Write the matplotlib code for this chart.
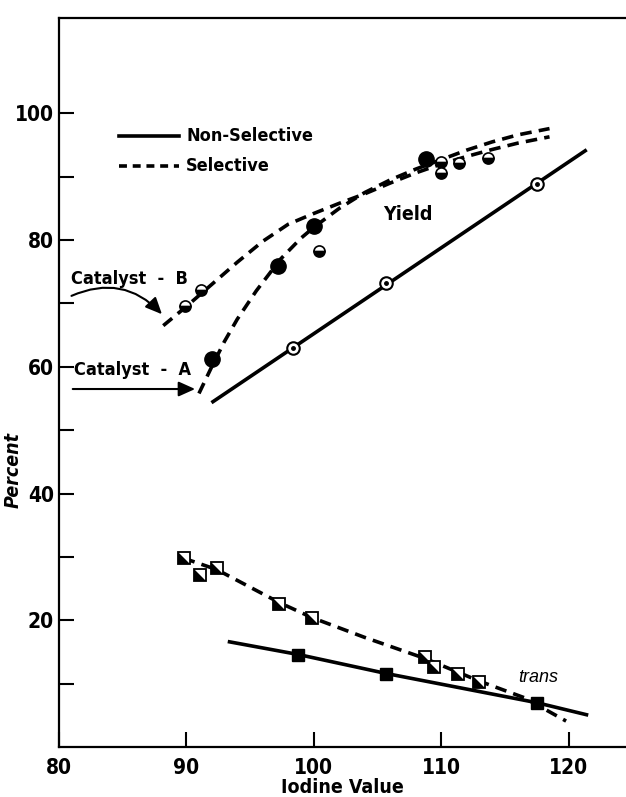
import os
import numpy as np
import matplotlib
matplotlib.use('Agg')
import matplotlib.pyplot as plt
import matplotlib.font_manager as fm
from matplotlib.path import Path

# the original lettering is a narrow bold face, try to find one
cond_path = None
cond_ital = None
for f in sorted(fm.findSystemFonts()):
    base = os.path.basename(f).lower()
    if ('condensed' in base or 'narrow' in base) and 'bold' in base \
            and 'extra' not in base and 'semi' not in base:
        if 'italic' in base or 'oblique' in base:
            if cond_ital is None:
                cond_ital = f
        elif cond_path is None:
            cond_path = f


def tprops(size, italic=False):
    if italic and cond_ital is not None:
        return fm.FontProperties(fname=cond_ital, size=size + 1)
    if cond_path is not None:
        return fm.FontProperties(fname=cond_path, size=size + 1)
    return fm.FontProperties(family='Liberation Sans', weight='bold',
                             style='italic' if italic else 'normal', size=size)


# yield, non-selective (solid line, dotted circles)
ns_yield_x = [98.4, 105.7, 117.5]
ns_yield_y = [62.9, 73.3, 88.9]
ns_yield_line_x = [92.1, 121.3]
ns_yield_line_y = [54.5, 94.1]

# yield, selective catalyst A (filled circles)
cat_a_x = [92.0, 97.2, 100.0, 108.8]
cat_a_y = [61.3, 75.9, 82.2, 92.8]
cat_a_line_x = [91.0, 92.0, 93.0, 94.0, 95.5, 97.4, 99.0, 100.0, 102.0, 104.0,
                106.0, 108.0, 110.0, 112.0, 114.0, 116.0, 118.5]
cat_a_line_y = [55.8, 60.0, 64.0, 67.5, 72.0, 77.0, 80.3, 82.0, 85.0, 87.5,
                89.5, 91.2, 92.7, 94.2, 95.5, 96.6, 97.6]

# yield, selective catalyst B (half-filled circles)
cat_b_x = [89.9, 91.2, 100.4, 110.0, 110.0, 111.4, 113.7]
cat_b_y = [69.6, 72.2, 78.3, 92.4, 90.6, 92.2, 93.0]
cat_b_line_x = [88.2, 90.0, 92.0, 94.0, 96.0, 98.0, 100.0, 102.0, 104.0, 106.0,
                108.0, 110.0, 112.0, 114.0, 116.0, 118.5]
cat_b_line_y = [66.5, 69.5, 73.0, 76.5, 79.8, 82.5, 84.2, 85.8, 87.3, 89.0,
                90.6, 92.0, 93.2, 94.3, 95.3, 96.3]

# trans, selective (half-filled squares)
tr_sel_x = [89.8, 91.1, 92.4, 97.3, 99.9, 108.7, 109.4, 111.3, 113.0]
tr_sel_y = [29.8, 27.2, 28.2, 22.6, 20.4, 14.2, 12.7, 11.5, 10.2]
tr_sel_line_x = [89.8, 92.4, 97.3, 99.9, 104.0, 108.7, 113.0, 116.5, 119.8]
tr_sel_line_y = [29.8, 28.0, 22.8, 20.4, 17.3, 14.0, 10.4, 7.8, 4.1]

# trans, non-selective (filled squares)
tr_ns_x = [98.8, 105.7, 117.5]
tr_ns_y = [14.6, 11.6, 7.0]
tr_ns_line_x = [93.4, 98.8, 105.7, 117.5, 121.4]
tr_ns_line_y = [16.6, 14.6, 11.6, 7.0, 5.1]

xticks = [80, 90, 100, 110, 120]
yticks = [20, 40, 60, 80, 100]
yminor = [10, 30, 50, 70, 90]

fig = plt.figure(figsize=(6.26, 7.97), dpi=100)
ax = fig.add_axes([0.0938, 0.0627, 1.0 - 0.0938, 0.977 - 0.0627])
ax.set_xlim(80, 124.5)
ax.set_ylim(0, 115)

lw = 2.6
dash = (0, (3.2, 2.0))

ax.plot(ns_yield_line_x, ns_yield_line_y, 'k-', lw=lw, zorder=2)
ax.plot(cat_a_line_x, cat_a_line_y, color='k', ls=dash, lw=lw, zorder=2)
ax.plot(cat_b_line_x, cat_b_line_y, color='k', ls=dash, lw=lw, zorder=2)
ax.plot(tr_ns_line_x, tr_ns_line_y, 'k-', lw=lw, zorder=2)
ax.plot(tr_sel_line_x, tr_sel_line_y, color='k', ls=dash, lw=lw, zorder=2)

# dotted circles
ax.plot(ns_yield_x, ns_yield_y, 'o', ms=9, mfc='white', mec='k', mew=1.5, zorder=3)
ax.plot(ns_yield_x, ns_yield_y, 'o', ms=2.5, mfc='k', mec='k', zorder=4)
# filled circles
ax.plot(cat_a_x, cat_a_y, 'o', ms=11, mfc='k', mec='k', zorder=3)
# half circles
ax.plot(cat_b_x, cat_b_y, 'o', ms=8, fillstyle='bottom', mfc='k',
        mfcalt='white', mec='k', mew=1.2, zorder=3)
# half squares
tri = Path([(-1, 1), (-1, -1), (1, -1), (-1, 1)],
           [Path.MOVETO, Path.LINETO, Path.LINETO, Path.CLOSEPOLY])
ax.plot(tr_sel_x, tr_sel_y, 's', ms=8, mfc='white', mec='k', mew=1.3, zorder=3)
ax.plot(tr_sel_x, tr_sel_y, marker=tri, ls='none', ms=8, mfc='k', mec='k',
        mew=0, zorder=4)
# filled squares
ax.plot(tr_ns_x, tr_ns_y, 's', ms=9, mfc='k', mec='k', zorder=3)

# legend drawn by hand
ax.plot([84.7, 89.4], [96.5, 96.5], 'k-', lw=lw)
ax.plot([84.7, 89.4], [91.7, 91.7], color='k', ls=(0, (2.2, 1.6)), lw=lw)
ax.text(90.0, 96.5, 'Non-Selective', va='center', ha='left',
        fontproperties=tprops(12))
ax.text(90.0, 91.7, 'Selective', va='center', ha='left',
        fontproperties=tprops(12))

ax.text(107.4, 84.0, 'Yield', va='center', ha='center', fontproperties=tprops(13))
ax.text(117.6, 10.9, 'trans', fontfamily='Liberation Sans', style='italic',
        fontsize=13, va='center', ha='center')

ax.text(81.0, 73.8, 'Catalyst  -  B', va='center', ha='left',
        fontproperties=tprops(12))
ax.text(81.2, 59.5, 'Catalyst  -  A', va='center', ha='left',
        fontproperties=tprops(12))
arrow = dict(arrowstyle='-|>,head_length=1.0,head_width=0.45', color='k',
             lw=1.5, shrinkA=0, shrinkB=0)
ax.annotate('', xy=(88.1, 68.3), xytext=(81.0, 71.2),
            arrowprops=dict(connectionstyle='arc3,rad=-0.35', **arrow))
ax.annotate('', xy=(90.7, 56.5), xytext=(81.1, 56.5), arrowprops=arrow)

ax.set_xticks(xticks)
ax.set_yticks(yticks)
ax.set_yticks(yminor, minor=True)
ax.tick_params(axis='both', which='both', direction='in', length=11, width=1.5)
ax.tick_params(axis='x', pad=8)
for lab in ax.get_xticklabels() + ax.get_yticklabels():
    lab.set_fontproperties(tprops(14))

ax.spines['right'].set_visible(False)
for s in ['left', 'bottom', 'top']:
    ax.spines[s].set_linewidth(1.6)

ax.set_xlabel('Iodine Value', labelpad=0, fontproperties=tprops(13))
fig.text(13 / 626, 1 - 470 / 797, 'Percent', rotation=90, va='center',
         ha='center', fontproperties=tprops(13, italic=True))

fig.savefig('out.png', dpi=100)
